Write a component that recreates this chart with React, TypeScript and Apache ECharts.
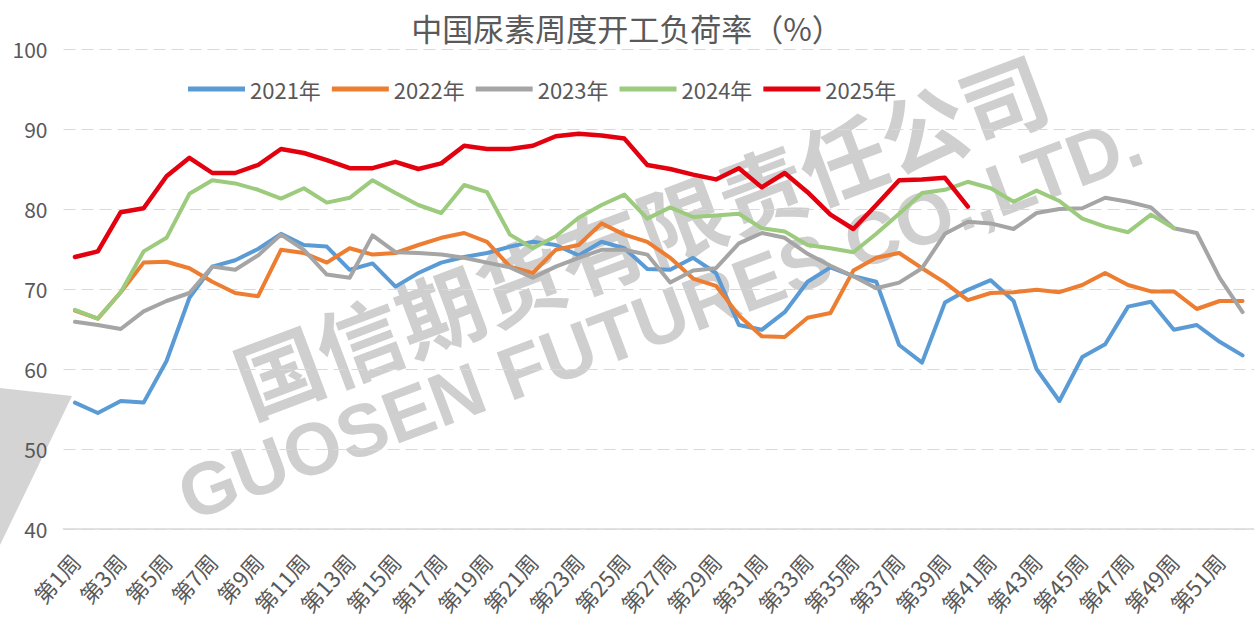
import React, { useEffect, useRef } from "react";
import * as echarts from "echarts";

const weeks: string[] = Array.from({ length: 52 }, (_, i) => `第${i + 1}周`);

const yTicks = { min: 40, max: 100, interval: 10 };

const s2021 = [55.8, 54.5, 56.0, 55.8, 61.0, 68.9, 72.8, 73.6, 75.0, 76.9, 75.5, 75.3, 72.4, 73.2, 70.3, 72.0, 73.3, 74.0, 74.5, 75.3, 75.9, 75.5, 74.2, 75.9, 75.1, 72.5, 72.4, 73.9, 72.0, 65.5, 64.9, 67.1, 70.9, 72.7, 71.6, 70.9, 63.0, 60.8, 68.3, 69.9, 71.1, 68.5, 60.0, 56.0, 61.5, 63.1, 67.8, 68.4, 64.9, 65.5, 63.4, 61.7];
const s2022 = [67.3, 66.3, 69.6, 73.3, 73.4, 72.6, 70.9, 69.5, 69.1, 74.9, 74.5, 73.3, 75.1, 74.3, 74.5, 75.5, 76.4, 77.0, 75.9, 72.8, 72.0, 74.9, 75.5, 78.2, 76.8, 75.9, 73.9, 71.3, 70.4, 66.7, 64.1, 64.0, 66.4, 67.0, 72.3, 73.9, 74.5, 72.6, 70.8, 68.6, 69.5, 69.6, 69.9, 69.6, 70.5, 72.0, 70.5, 69.7, 69.7, 67.5, 68.5, 68.5];
const s2023 = [65.9, 65.5, 65.0, 67.2, 68.5, 69.5, 72.8, 72.4, 74.2, 76.8, 74.9, 71.8, 71.4, 76.7, 74.6, 74.5, 74.3, 73.9, 73.3, 72.7, 71.4, 72.8, 73.9, 74.9, 74.9, 74.3, 70.8, 72.3, 72.6, 75.7, 77.0, 76.4, 74.4, 72.9, 71.6, 70.1, 70.8, 72.6, 76.9, 78.4, 78.2, 77.5, 79.5, 80.0, 80.1, 81.4, 80.9, 80.2, 77.6, 77.0, 71.4, 67.1];
const s2024 = [67.4, 66.3, 69.6, 74.7, 76.4, 81.9, 83.6, 83.2, 82.4, 81.3, 82.6, 80.8, 81.4, 83.6, 82.0, 80.5, 79.5, 83.0, 82.1, 76.8, 75.1, 76.6, 78.9, 80.5, 81.8, 78.8, 80.2, 79.0, 79.2, 79.4, 77.6, 77.2, 75.5, 75.1, 74.6, 76.9, 79.4, 82.0, 82.4, 83.4, 82.6, 80.9, 82.3, 81.0, 78.8, 77.8, 77.1, 79.3, 77.6];
const s2025 = [74.0, 74.7, 79.6, 80.1, 84.1, 86.4, 84.5, 84.5, 85.5, 87.5, 87.0, 86.1, 85.1, 85.1, 85.9, 85.0, 85.7, 87.9, 87.5, 87.5, 87.9, 89.1, 89.4, 89.2, 88.8, 85.5, 85.0, 84.3, 83.7, 85.1, 82.7, 84.5, 82.1, 79.3, 77.5, 80.5, 83.6, 83.7, 83.9, 80.3];

const seriesNames = ["2021年", "2022年", "2023年", "2024年", "2025年"];
const seriesData = [s2021, s2022, s2023, s2024, s2025];
const seriesColors = ["#5B9BD5", "#ED7D31", "#A5A5A5", "#9CCB7E", "#E3000F"];
const seriesWidths = [4, 4, 4, 4, 4.5];

const titleText = "中国尿素周度开工负荷率（%）";
const watermarkCn = "国信期货有限责任公司";
const watermarkEn = "GUOSEN FUTURES CO.,LTD.";

const FONT = '"Noto Sans CJK SC", "Noto Sans", sans-serif';

export default function App() {
  const ref = useRef<HTMLDivElement>(null);
  useEffect(() => {
    if (!ref.current) return;
    const chart = echarts.init(ref.current, undefined, { renderer: "svg" });
    const rot = 0.36;
    chart.setOption({
      animation: false,
      backgroundColor: "#ffffff",
      textStyle: { fontFamily: FONT },
      title: {
        text: titleText,
        left: "center",
        top: 12,
        padding: 0,
        textStyle: { fontSize: 31, fontWeight: "normal", color: "#595959", fontFamily: FONT },
      },
      legend: {
        data: seriesNames,
        left: 188,
        top: 78,
        padding: 0,
        icon: "rect",
        itemWidth: 57,
        itemHeight: 5,
        itemGap: 11,
        textStyle: { fontSize: 22, color: "#595959", fontFamily: FONT },
      },
      graphic: [
        {
          type: "polygon",
          z: -10,
          shape: { points: [[0, 388], [72, 396], [0, 545]] },
          style: { fill: "#d4d4d4" },
        },
        {
          type: "text",
          z: -10,
          x: 640,
          y: 232,
          rotation: rot,
          style: {
            text: watermarkCn,
            font: `bold 86px ${FONT}`,
            fill: "#cfcfcf",
            textAlign: "center",
            textVerticalAlign: "middle",
            align: "center",
            verticalAlign: "middle",
          },
        },
        {
          type: "text",
          z: -10,
          x: 660,
          y: 318,
          rotation: rot,
          style: {
            text: watermarkEn,
            font: `bold 74px "Liberation Sans", Arial, sans-serif`,
            fill: "#cfcfcf",
            textAlign: "center",
            textVerticalAlign: "middle",
            align: "center",
            verticalAlign: "middle",
          },
        },
      ],
      grid: { left: 63.5, top: 49, width: 1196, height: 480, containLabel: false },
      xAxis: {
        type: "category",
        data: weeks,
        boundaryGap: true,
        axisLine: { show: true, lineStyle: { color: "#d9d9d9", width: 1.5 } },
        axisTick: { show: false },
        axisLabel: {
          interval: 1,
          rotate: 48,
          margin: 28,
          fontSize: 22,
          color: "#595959",
          fontFamily: FONT,
        },
        splitLine: { show: false },
      },
      yAxis: {
        type: "value",
        min: yTicks.min,
        max: yTicks.max,
        interval: yTicks.interval,
        axisLine: { show: false },
        axisTick: { show: false },
        axisLabel: { fontSize: 21, color: "#595959", margin: 16, fontFamily: FONT },
        splitLine: { show: true, lineStyle: { color: "#d9d9d9", type: [12, 6], width: 1.2 } },
      },
      series: seriesNames.map((name, i) => ({
        name,
        type: "line",
        data: seriesData[i],
        symbol: "none",
        smooth: false,
        connectNulls: false,
        z: 2 + i,
        lineStyle: { color: seriesColors[i], width: seriesWidths[i], join: "round", cap: "round" },
        itemStyle: { color: seriesColors[i] },
      })),
    });
    return () => chart.dispose();
  }, []);
  return (
    <div
      ref={ref}
      style={{ position: "fixed", left: 0, top: 0, width: 1254, height: 624, background: "#fff" }}
    />
  );
}
